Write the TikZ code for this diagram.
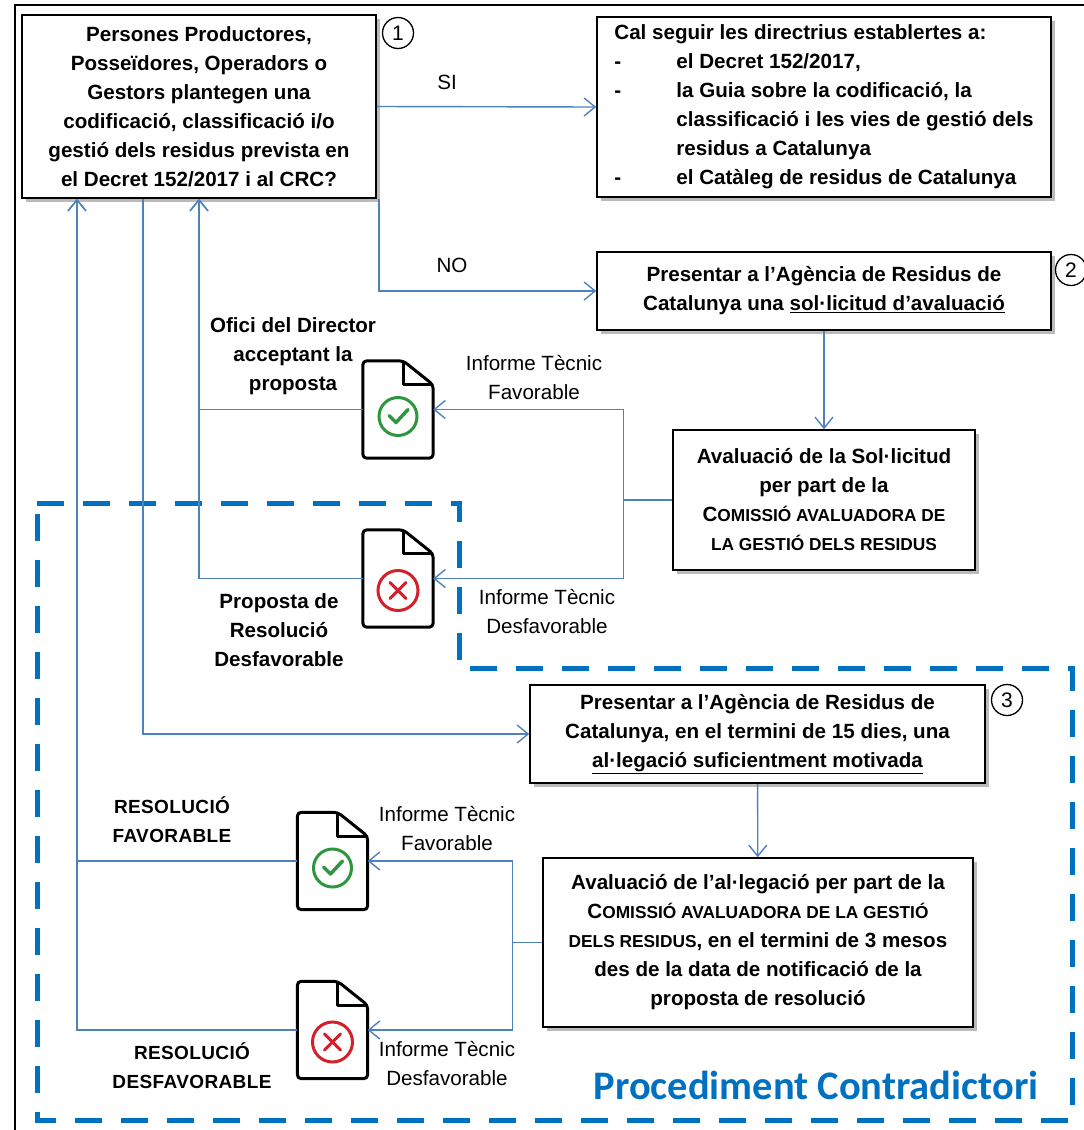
\documentclass[tikz,border=0pt]{standalone}
\usepackage{fontspec}
\setmainfont{Liberation Sans}
\newfontfamily\titlefont{Carlito}
\usetikzlibrary{arrows.meta,shadows}
\definecolor{linkblue}{RGB}{79,129,189}
\definecolor{zoneblue}{RGB}{0,112,192}
\definecolor{okgreen}{RGB}{46,150,62}
\definecolor{kored}{RGB}{212,32,42}
\newcommand{\smc}[1]{{\fontsize{17.3}{17.3}\selectfont #1}}

\begin{document}
\begin{tikzpicture}[x=1pt, y=-1pt,
  box/.style={draw, line width=1.6pt, fill=white, align=center, inner sep=0pt,
    drop shadow={shadow xshift=4pt, shadow yshift=-4pt, opacity=0.45, fill=black!60},
    font=\bfseries\fontsize{20.6}{29}\selectfont},
  arr/.style={draw=linkblue, line width=1.4pt, -{Straight Barb[length=11pt,width=18pt]}},
  link/.style={draw=linkblue, line width=1.4pt},
  lbl/.style={align=center, font=\fontsize{20.6}{29}\selectfont},
  blbl/.style={align=center, font=\bfseries\fontsize{20.6}{29}\selectfont},
  num/.style={circle, draw, line width=1.3pt, minimum size=31pt, inner sep=0pt, font=\fontsize{21}{21}\selectfont},
  docbox/.style={minimum width=70pt, minimum height=97pt, inner sep=0pt},
  zone/.style={draw=zoneblue, line width=5pt, dash pattern=on 27pt off 19pt}]

\useasboundingbox (0,0) rectangle (1084,1130);

% frame and dashed zone
\draw[line width=2pt] (15,1130) -- (15,5) -- (1084,5);
\draw[zone] (37,503) -- (459,503) -- (459,668) -- (1072,668) -- (1072,1120) -- (37,1120) -- cycle;

% boxes
\node[box, minimum width=354pt, minimum height=183pt] (q1) at (199,106.5) {Persones Productores,\\Posseïdores, Operadors o\\Gestors plantegen una\\codificació, classificació i/o\\gestió dels residus prevista en\\el Decret 152/2017 i al CRC?};
\node[box, minimum width=454pt, minimum height=180pt, align=left] (cal) at (824,107) {Cal seguir les directrius establertes a:\\
\makebox[62pt][l]{-}el Decret 152/2017,\\
\makebox[62pt][l]{-}la Guia sobre la codificació, la\\
\hspace*{62pt}classificació i les vies de gestió dels\\
\hspace*{62pt}residus a Catalunya\\
\makebox[62pt][l]{-}el Catàleg de residus de Catalunya};
\node[box, minimum width=454pt, minimum height=78pt] (sol) at (824,291) {Presentar a l'Agència de Residus de\\Catalunya una \underline{sol·licitud d'avaluació}};
\node[box, minimum width=302pt, minimum height=140pt] (aval) at (824,500) {Avaluació de la Sol·licitud\\per part de la\\C\smc{OMISSIÓ AVALUADORA DE}\\\smc{LA GESTIÓ DELS RESIDUS}};
\node[box, minimum width=455pt, minimum height=98pt] (al) at (757.5,734) {Presentar a l'Agència de Residus de\\Catalunya, en el termini de 15 dies, una\\\underline{al·legació suficientment motivada}};
\node[box, minimum width=430pt, minimum height=169pt] (aval2) at (758,942.5) {Avaluació de l'al·legació per part de la\\C\smc{OMISSIÓ AVALUADORA DE LA GESTIÓ}\\\smc{DELS RESIDUS}, en el termini de 3 mesos\\des de la data de notificació de la\\proposta de resolució};

\node[num] (n1) at (398,33) {1};
\node[num] (n2) at (1071,270) {2};
\node[num] (n3) at (1007,700) {3};

% document icons
\node[docbox] (okA) at (398,409.5) {};
\node[docbox] (koA) at (398,578.5) {};
\node[docbox] (okB) at (332.5,861) {};
\node[docbox] (koB) at (332.5,1030) {};
\foreach \d in {okA,koA,okB,koB} {
  \draw[line width=3pt, rounded corners=4pt, line join=round] (\d.south west) -- (\d.north west) -- ([xshift=-30pt]\d.north east) -- ([yshift=-24pt]\d.north east) -- (\d.south east) -- cycle;
  \draw[line width=3pt, line join=round] ([xshift=-30pt]\d.north east) -- ([xshift=-30pt,yshift=-24pt]\d.north east) -- ([yshift=-24pt]\d.north east);
}
\foreach \d in {okA,okB} {
  \draw[okgreen, line width=3pt] ([yshift=-7pt]\d.center) circle (19pt);
  \draw[okgreen, line width=3.5pt, line cap=round, line join=round] ([shift={(-9pt,-6pt)}]\d.center) -- ([shift={(-2pt,-13pt)}]\d.center) -- ([shift={(10pt,0pt)}]\d.center);
}
\foreach \d in {koA,koB} {
  \draw[kored, line width=3pt] ([yshift=-12pt]\d.center) circle (20pt);
  \draw[kored, line width=3pt, line cap=round] ([shift={(-8pt,-4pt)}]\d.center) -- ([shift={(8pt,-20pt)}]\d.center);
  \draw[kored, line width=3pt, line cap=round] ([shift={(-8pt,-20pt)}]\d.center) -- ([shift={(8pt,-4pt)}]\d.center);
}

% labels
\node[lbl] (siL) at (447,82) {SI};
\node[lbl] (noL) at (452,265) {NO};
\node[lbl] (favA) at (534,378) {Informe Tècnic\\Favorable};
\node[lbl] (desA) at (547,611.5) {Informe Tècnic\\Desfavorable};
\node[blbl] (ofici) at (293,356) {Ofici del Director\\acceptant la\\proposta};
\node[blbl] (propL) at (279,630.5) {Proposta de\\Resolució\\Desfavorable};
\node[lbl] (favB) at (447,829) {Informe Tècnic\\Favorable};
\node[lbl] (desB) at (447,1064) {Informe Tècnic\\Desfavorable};
\node[blbl, font=\bfseries\fontsize{19}{29}\selectfont\addfontfeature{LetterSpace=2}] (resF) at (172,819.5) {RESOLUCIÓ\\FAVORABLE};
\node[blbl, font=\bfseries\fontsize{19}{29}\selectfont\addfontfeature{LetterSpace=2}] (resD) at (192,1065.5) {RESOLUCIÓ\\DESFAVORABLE};
\node[text=zoneblue, font=\titlefont\bfseries\fontsize{40.5}{40.5}\selectfont] (title) at (816,1085) {Procediment Contradictori};

% connectors
\draw[arr] (q1.east) -- (cal.west);
\draw[arr] ([xshift=2pt]q1.south east) |- (sol.west);
\draw[arr] (sol) -- (aval);
\draw[link] (aval.west) -- ++(-49,0) coordinate (j1);
\draw[arr] (j1) |- (okA.east);
\draw[arr] (j1) |- (koA.east);
\draw[arr] (okA.west) -| (q1.south);
\draw[arr] (koA.west) -| (q1.south);
\draw[arr] ([xshift=-56pt]q1.south) |- (al.west);
\draw[arr] (al) -- (aval2);
\draw[link] (aval2.west) -- ++(-30,0) coordinate (j2);
\draw[arr] (j2) |- (okB.east);
\draw[arr] (j2) |- (koB.east);
\draw[arr] (okB.west) -| ([xshift=-122pt]q1.south);
\draw[arr] (koB.west) -| ([xshift=-122pt]q1.south);

\end{tikzpicture}
\end{document}
